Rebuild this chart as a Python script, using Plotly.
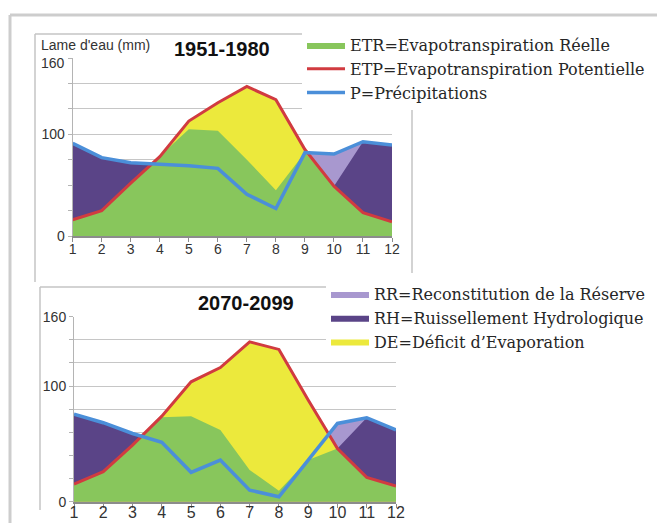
import plotly.graph_objects as go

# ── Data ─────────────────────────────────────────────────────────────────────
MONTHS = list(range(1, 13))

# 1951-1980
ETP_1951 = [16, 25, 52, 78, 113, 131, 147, 134, 85, 49, 23, 14]
P_1951 = [91, 77, 72, 70.5, 69, 66.5, 41, 27, 82, 80.6, 92.7, 89.5]
ETR_1951 = [16, 25, 52, 78, 105, 103.5, 75, 45, 82, 49, 23, 14]
RH_TOP_1951 = [91, 77, 72, 70.5, 69, 66.5, 41, 27, 82, 49, 92.7, 89.5]

# 2070-2099
ETP_2070 = [15.3, 26, 49, 74, 103.7, 116, 138.3, 131.7, 88, 46, 21, 13.5]
P_2070 = [75.8, 68.3, 59, 51.3, 25.4, 36, 10, 4.3, 36, 67.7, 72.6, 62]
ETR_2070 = [15.3, 26, 49, 73, 74, 62, 27.4, 9.5, 36, 46, 21, 13.5]
RH_TOP_2070 = [75.8, 68.3, 59, 51.3, 25.4, 36, 10, 4.3, 36, 46, 72.6, 62]

TOP_TICKS = [0, 25, 50, 75, 100, 125, 150, 175]
TOP_TICKTEXT = ["0", "", "", "", "100", "", "", ""]
BOT_TICKS = [0, 20, 40, 60, 80, 100, 120, 140, 160]
BOT_TICKTEXT = ["0", "", "", "", "", "100", "", "", "160"]

# ── Style ────────────────────────────────────────────────────────────────────
COLORS = {
    "etr": "#88c65c",
    "de": "#ece93c",
    "rh": "#5a4487",
    "rr": "#a898cf",
    "etp": "#d13b40",
    "p": "#4b8fd9",
    "grid": "#c6c6c6",
    "axis": "#8c8c8c",
    "frame": "#cdcdcd",
    "text": "#333333",
}
W, H = 665, 523
OFF = 8  # page body margin
SANS = "Liberation Sans"
SERIF = "DejaVu Serif"


def px(x):
    return (x - OFF) / W


def py(y):
    return 1 - (y - OFF) / H


fig = go.Figure()


def add_panel(etr, etp, p, rh_top, xa, ya, legend_top, legend_bot):
    # areas drawn in layers, each one filled down to zero
    fig.add_trace(go.Scatter(
        x=MONTHS, y=p, mode="lines", fill="tozeroy",
        fillcolor=COLORS["rr"], line=dict(width=0),
        name="RR=Reconstitution de la Réserve",
        legend="legend2", showlegend=legend_bot,
        xaxis=xa, yaxis=ya, hoverinfo="skip",
    ))
    fig.add_trace(go.Scatter(
        x=MONTHS, y=rh_top, mode="lines", fill="tozeroy",
        fillcolor=COLORS["rh"], line=dict(width=0),
        name="RH=Ruissellement Hydrologique",
        legend="legend2", showlegend=legend_bot,
        xaxis=xa, yaxis=ya, hoverinfo="skip",
    ))
    fig.add_trace(go.Scatter(
        x=MONTHS, y=etp, mode="lines", fill="tozeroy",
        fillcolor=COLORS["de"], line=dict(width=0),
        name="DE=Déficit d\u2019Evaporation",
        legend="legend2", showlegend=legend_bot,
        xaxis=xa, yaxis=ya, hoverinfo="skip",
    ))
    fig.add_trace(go.Scatter(
        x=MONTHS, y=etr, mode="lines", fill="tozeroy",
        fillcolor=COLORS["etr"], line=dict(width=0),
        name="ETR=Evapotranspiration Réelle",
        legend="legend", showlegend=legend_top,
        xaxis=xa, yaxis=ya,
    ))
    fig.add_trace(go.Scatter(
        x=MONTHS, y=etp, mode="lines",
        line=dict(color=COLORS["etp"], width=3),
        name="ETP=Evapotranspiration Potentielle",
        legend="legend", showlegend=legend_top,
        xaxis=xa, yaxis=ya,
    ))
    fig.add_trace(go.Scatter(
        x=MONTHS, y=p, mode="lines",
        line=dict(color=COLORS["p"], width=3.5),
        name="P=Précipitations",
        legend="legend", showlegend=legend_top,
        xaxis=xa, yaxis=ya,
    ))


add_panel(ETR_1951, ETP_1951, P_1951, RH_TOP_1951, "x", "y", True, False)
add_panel(ETR_2070, ETP_2070, P_2070, RH_TOP_2070, "x2", "y2", False, True)

x_common = dict(
    range=[1, 12], tickvals=MONTHS, showgrid=False, zeroline=False,
    showline=True, linecolor=COLORS["axis"], linewidth=2,
    ticks="outside", ticklen=4, tickcolor=COLORS["axis"],
    fixedrange=True, automargin=False,
)
y_common = dict(
    showgrid=True, gridcolor=COLORS["grid"], gridwidth=1, zeroline=False,
    showline=True, linecolor="#b4b4b4", linewidth=1,
    ticks="outside", ticklen=4, tickcolor="#b4b4b4",
    tickfont=dict(family=SANS, size=14, color=COLORS["text"]),
    fixedrange=True, automargin=False,
)

frame = dict(color=COLORS["frame"], width=3)
box = dict(color="#c4c4c4", width=1.5)
shapes = [
    # outer frame
    dict(type="line", xref="paper", yref="paper", x0=px(10), x1=px(673), y0=py(15), y1=py(15), line=frame),
    dict(type="line", xref="paper", yref="paper", x0=px(10), x1=px(10), y0=py(15), y1=py(531), line=frame),
    # top chart box
    dict(type="line", xref="paper", yref="paper", x0=px(35), x1=px(35), y0=py(34), y1=py(282), line=box),
    dict(type="line", xref="paper", yref="paper", x0=px(35), x1=px(412), y0=py(34), y1=py(34), line=box),
    dict(type="line", xref="paper", yref="paper", x0=px(412), x1=px(412), y0=py(34), y1=py(273), line=box),
    # bottom chart box
    dict(type="line", xref="paper", yref="paper", x0=px(40), x1=px(40), y0=py(287), y1=py(510), line=box),
    dict(type="line", xref="paper", yref="paper", x0=px(40), x1=px(330), y0=py(287), y1=py(287), line=box),
]

annotations = [
    dict(text="Lame d'eau (mm)", xref="paper", yref="paper", x=px(95), y=py(45),
         xanchor="center", yanchor="middle",
         showarrow=False, font=dict(family=SANS, size=14, color=COLORS["text"])),
    dict(text="<b>1951-1980</b>", xref="paper", yref="paper", x=px(222), y=py(49),
         xanchor="center", yanchor="middle",
         showarrow=False, font=dict(family=SANS, size=20, color="#111111")),
    dict(text="<b>2070-2099</b>", xref="paper", yref="paper", x=px(246), y=py(303),
         xanchor="center", yanchor="middle",
         showarrow=False, font=dict(family=SANS, size=20, color="#111111")),
    dict(text="160", xref="paper", yref="y", x=px(67), y=170,
         xanchor="right", yanchor="middle",
         showarrow=False, font=dict(family=SANS, size=14, color=COLORS["text"])),
]

legend_font = dict(family=SERIF, size=16, color="#262626")

fig.update_layout(
    width=W, height=H,
    margin=dict(l=0, r=0, t=0, b=0, pad=0),
    paper_bgcolor="white", plot_bgcolor="white",
    xaxis=dict(domain=[px(72.7), px(392)], anchor="y", ticklabelstandoff=-5,
               tickfont=dict(family=SANS, size=14, color=COLORS["text"]), **x_common),
    yaxis=dict(domain=[py(236), py(58)], anchor="x", range=[0, 175],
               tickvals=TOP_TICKS, ticktext=TOP_TICKTEXT, **y_common),
    xaxis2=dict(domain=[px(74), px(396)], anchor="y2", ticklabelstandoff=-9,
                tickfont=dict(family=SANS, size=16, color=COLORS["text"]), **x_common),
    yaxis2=dict(domain=[py(501.7), py(316.7)], anchor="x2", range=[0, 160],
                tickvals=BOT_TICKS, ticktext=BOT_TICKTEXT, **y_common),
    legend=dict(x=px(302), y=py(28), xanchor="left", yanchor="top",
                bgcolor="white", tracegroupgap=0, itemwidth=38, font=legend_font),
    legend2=dict(x=px(326), y=py(277), xanchor="left", yanchor="top",
                 bgcolor="white", tracegroupgap=0, itemwidth=38, font=legend_font),
    shapes=shapes,
    annotations=annotations,
    showlegend=True,
)

fig.write_html("out.html")
